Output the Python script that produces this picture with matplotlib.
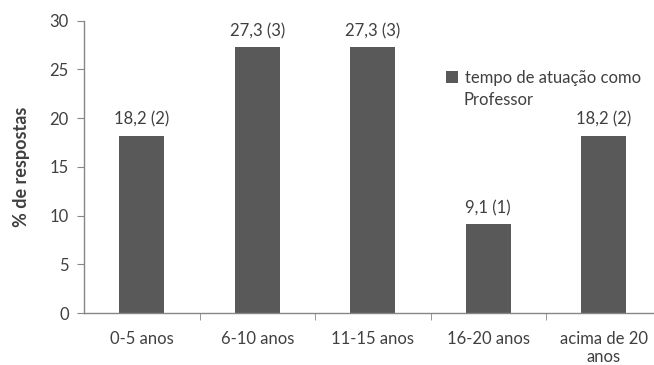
import matplotlib
matplotlib.use("Agg")
import matplotlib.pyplot as plt
from matplotlib.patches import Patch

categories = ["0-5 anos", "6-10 anos", "11-15 anos", "16-20 anos", "acima de 20\nanos"]
values = [18.2, 27.3, 27.3, 9.1, 18.2]
counts = [2, 3, 3, 1, 2]
series_name = "tempo de atuação como"
series_name2 = "Professor"

plt.rcParams['font.family'] = ['Lato', 'DejaVu Sans']
W, H = 654, 365
fig = plt.figure(figsize=(W / 100, H / 100), dpi=100)
fig.patch.set_facecolor("white")

x0, y0 = 84, 313
cw = 115.5
ax = fig.add_axes([x0 / W, (H - y0) / H, 5 * cw / W, (y0 - 20.7) / H])

bar_color = "#595959"
txt_color = "#404040"
axis_color = "#868686"

xs = list(range(len(categories)))
ax.bar(xs, values, width=0.39, color=bar_color, zorder=2)
for x, v, c in zip(xs, values, counts):
    ax.text(x, v + 0.8, f"{str(v).replace('.', ',')} ({c})", ha="center", va="bottom",
            fontsize=12, color=txt_color)

ax.set_xlim(-0.5, len(categories) - 0.5)
ax.set_ylim(0, 30)
ax.set_yticks([0, 5, 10, 15, 20, 25, 30])
ax.set_xticks(xs)
ax.set_xticklabels(categories, fontsize=12, color=txt_color, linespacing=1.15)
ax.tick_params(axis="x", length=0, pad=13)
ax.set_xticks([i - 0.5 for i in range(1, len(categories) + 1)], minor=True)
ax.tick_params(axis="x", which="minor", length=5, color=axis_color, direction="out")
ax.tick_params(axis="y", length=5, color=axis_color, labelsize=12, labelcolor=txt_color, pad=6)
for s in ["top", "right"]:
    ax.spines[s].set_visible(False)
for s in ["left", "bottom"]:
    ax.spines[s].set_color(axis_color)
    ax.spines[s].set_linewidth(1.0)
ax.set_ylabel("% de respostas", fontsize=13, fontweight="bold", color=txt_color, labelpad=14)

leg = ax.legend([Patch(facecolor=bar_color)], [series_name], frameon=False,
                loc="upper left", bbox_to_anchor=(446 / W, (H - 70) / H),
                bbox_transform=fig.transFigure, fontsize=12,
                handlelength=0.7, handleheight=0.7, handletextpad=0.45,
                borderpad=0, borderaxespad=0, labelcolor=txt_color)
fig.text(463 / W, (H - 100) / H, series_name2, fontsize=12, color=txt_color,
         ha="left", va="center")

fig.savefig("out.png", dpi=100)
